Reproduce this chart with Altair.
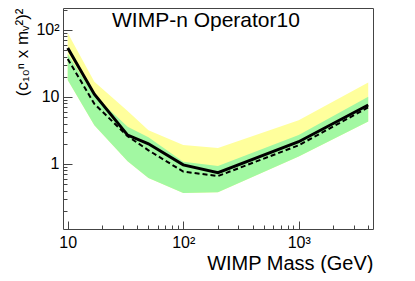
import altair as alt
import pandas as pd

# ---- data ----
masses = [10, 17, 33, 50, 100, 200, 1000, 4000]
observed = [54, 11, 2.7, 2.0, 0.97, 0.74, 2.15, 7.6]
expected = [37, 7.9, 2.6, 1.6, 0.77, 0.66, 1.9, 7.0]
band2_hi = [90, 16.9, 6.2, 3.2, 1.92, 1.73, 4.5, 16.4]
band1_hi = [44, 10.4, 3.6, 2.5, 1.08, 0.93, 2.7, 10.1]
band1_lo = [18, 3.8, 1.1, 0.62, 0.37, 0.38, 1.29, 4.3]
band2_lo = [18, 3.8, 1.1, 0.62, 0.37, 0.38, 1.29, 4.3]

x_major_ticks = [10, 100, 1000]
x_major_labels = ["10", "10²", "10³"]
x_minor_ticks = [20, 30, 40, 50, 60, 70, 80, 90,
                 200, 300, 400, 500, 600, 700, 800, 900,
                 2000, 3000, 4000]
y_major_ticks = [1, 10, 100]
y_major_labels = ["1", "10", "10²"]
y_minor_ticks = [0.2, 0.3, 0.4, 0.5, 0.6, 0.7, 0.8, 0.9,
                 2, 3, 4, 5, 6, 7, 8, 9,
                 20, 30, 40, 50, 60, 70, 80, 90, 200]

plot_title = "WIMP-n Operator10"
x_title = "WIMP Mass (GeV)"
y_title = "(c₁₀ⁿ x mᵥ²)²"

df = pd.DataFrame({
    "mass": masses, "obs": observed, "exp": expected,
    "b2hi": band2_hi, "b2lo": band2_lo, "b1hi": band1_hi, "b1lo": band1_lo,
})

FONT = "Liberation Sans"
YELLOW = "#ffff9c"
GREEN = "#a2f8a2"
TICK = "#444444"


def label_expr(vals, labels):
    parts = [f"datum.value == {v} ? '{l}'" for v, l in zip(vals, labels)]
    return " : ".join(parts) + " : ''"


xscale = alt.Scale(type="log", domain=[9.1, 4400], nice=False)
yscale = alt.Scale(type="log", domain=[0.107, 213], nice=False)

x_major = alt.Axis(orient="bottom", values=x_major_ticks, offset=-8, tickSize=8,
                   domain=False, grid=False, labelFlush=False,
                   labelExpr=label_expr(x_major_ticks, x_major_labels),
                   labelFont=FONT, labelFontSize=16, labelColor="black",
                   labelPadding=5, tickColor=TICK, tickWidth=1,
                   title=x_title, titleFont=FONT, titleFontSize=20,
                   titleFontWeight="normal", titleColor="black",
                   titleAlign="right", titleBaseline="alphabetic",
                   titleX=310, titleY=48)
x_minor = alt.Axis(orient="bottom", values=x_minor_ticks, offset=-4, tickSize=4,
                   domain=False, grid=False, labels=False, title=None,
                   tickColor=TICK, tickWidth=1)
y_major = alt.Axis(orient="left", values=y_major_ticks, offset=-9, tickSize=9,
                   domain=False, grid=False, labelFlush=False,
                   labelExpr=label_expr(y_major_ticks, y_major_labels),
                   labelFont=FONT, labelFontSize=16, labelColor="black",
                   labelPadding=4, tickColor=TICK, tickWidth=1,
                   title=y_title, titleFont=FONT, titleFontSize=17,
                   titleFontWeight="normal", titleColor="black",
                   titleAngle=270, titleAlign="right", titleBaseline="alphabetic",
                   titleX=-45, titleY=0)
y_minor = alt.Axis(orient="left", values=y_minor_ticks, offset=-4, tickSize=4,
                   domain=False, grid=False, labels=False, title=None,
                   tickColor=TICK, tickWidth=1)

base = alt.Chart(df)

yellow = base.mark_area(color=YELLOW, clip=True).encode(
    x=alt.X("mass:Q", scale=xscale, axis=x_major),
    y=alt.Y("b2hi:Q", scale=yscale, axis=y_major),
    y2="b2lo:Q",
)
green = base.mark_area(color=GREEN, clip=True).encode(
    x=alt.X("mass:Q", scale=xscale, axis=None),
    y=alt.Y("b1hi:Q", scale=yscale, axis=None),
    y2="b1lo:Q",
)
exp_line = base.mark_line(color="black", strokeWidth=2, strokeDash=[5, 3], clip=True).encode(
    x=alt.X("mass:Q", scale=xscale, axis=None),
    y=alt.Y("exp:Q", scale=yscale, axis=None),
)
obs_line = base.mark_line(color="black", strokeWidth=3, clip=True).encode(
    x=alt.X("mass:Q", scale=xscale, axis=None),
    y=alt.Y("obs:Q", scale=yscale, axis=None),
)
minor = base.mark_point(opacity=0).encode(
    x=alt.X("mass:Q", scale=xscale, axis=x_minor),
    y=alt.Y("obs:Q", scale=yscale, axis=y_minor),
)
title_txt = alt.Chart(pd.DataFrame({"t": [plot_title]})).mark_text(
    align="left", baseline="alphabetic", font=FONT, fontSize=21, color="black"
).encode(x=alt.value(49), y=alt.value(19), text="t:N")

chart = alt.layer(yellow, green, exp_line, obs_line, minor, title_txt).resolve_axis(
    x="independent", y="independent"
).properties(
    width=310, height=221,
    autosize=alt.AutoSizeParams(type="none"),
    padding={"left": 55, "top": 0, "right": 20, "bottom": 44},
).configure_view(stroke="#444444", strokeWidth=1)

chart.save("out.html", embed_options={"renderer": "svg", "actions": False})
